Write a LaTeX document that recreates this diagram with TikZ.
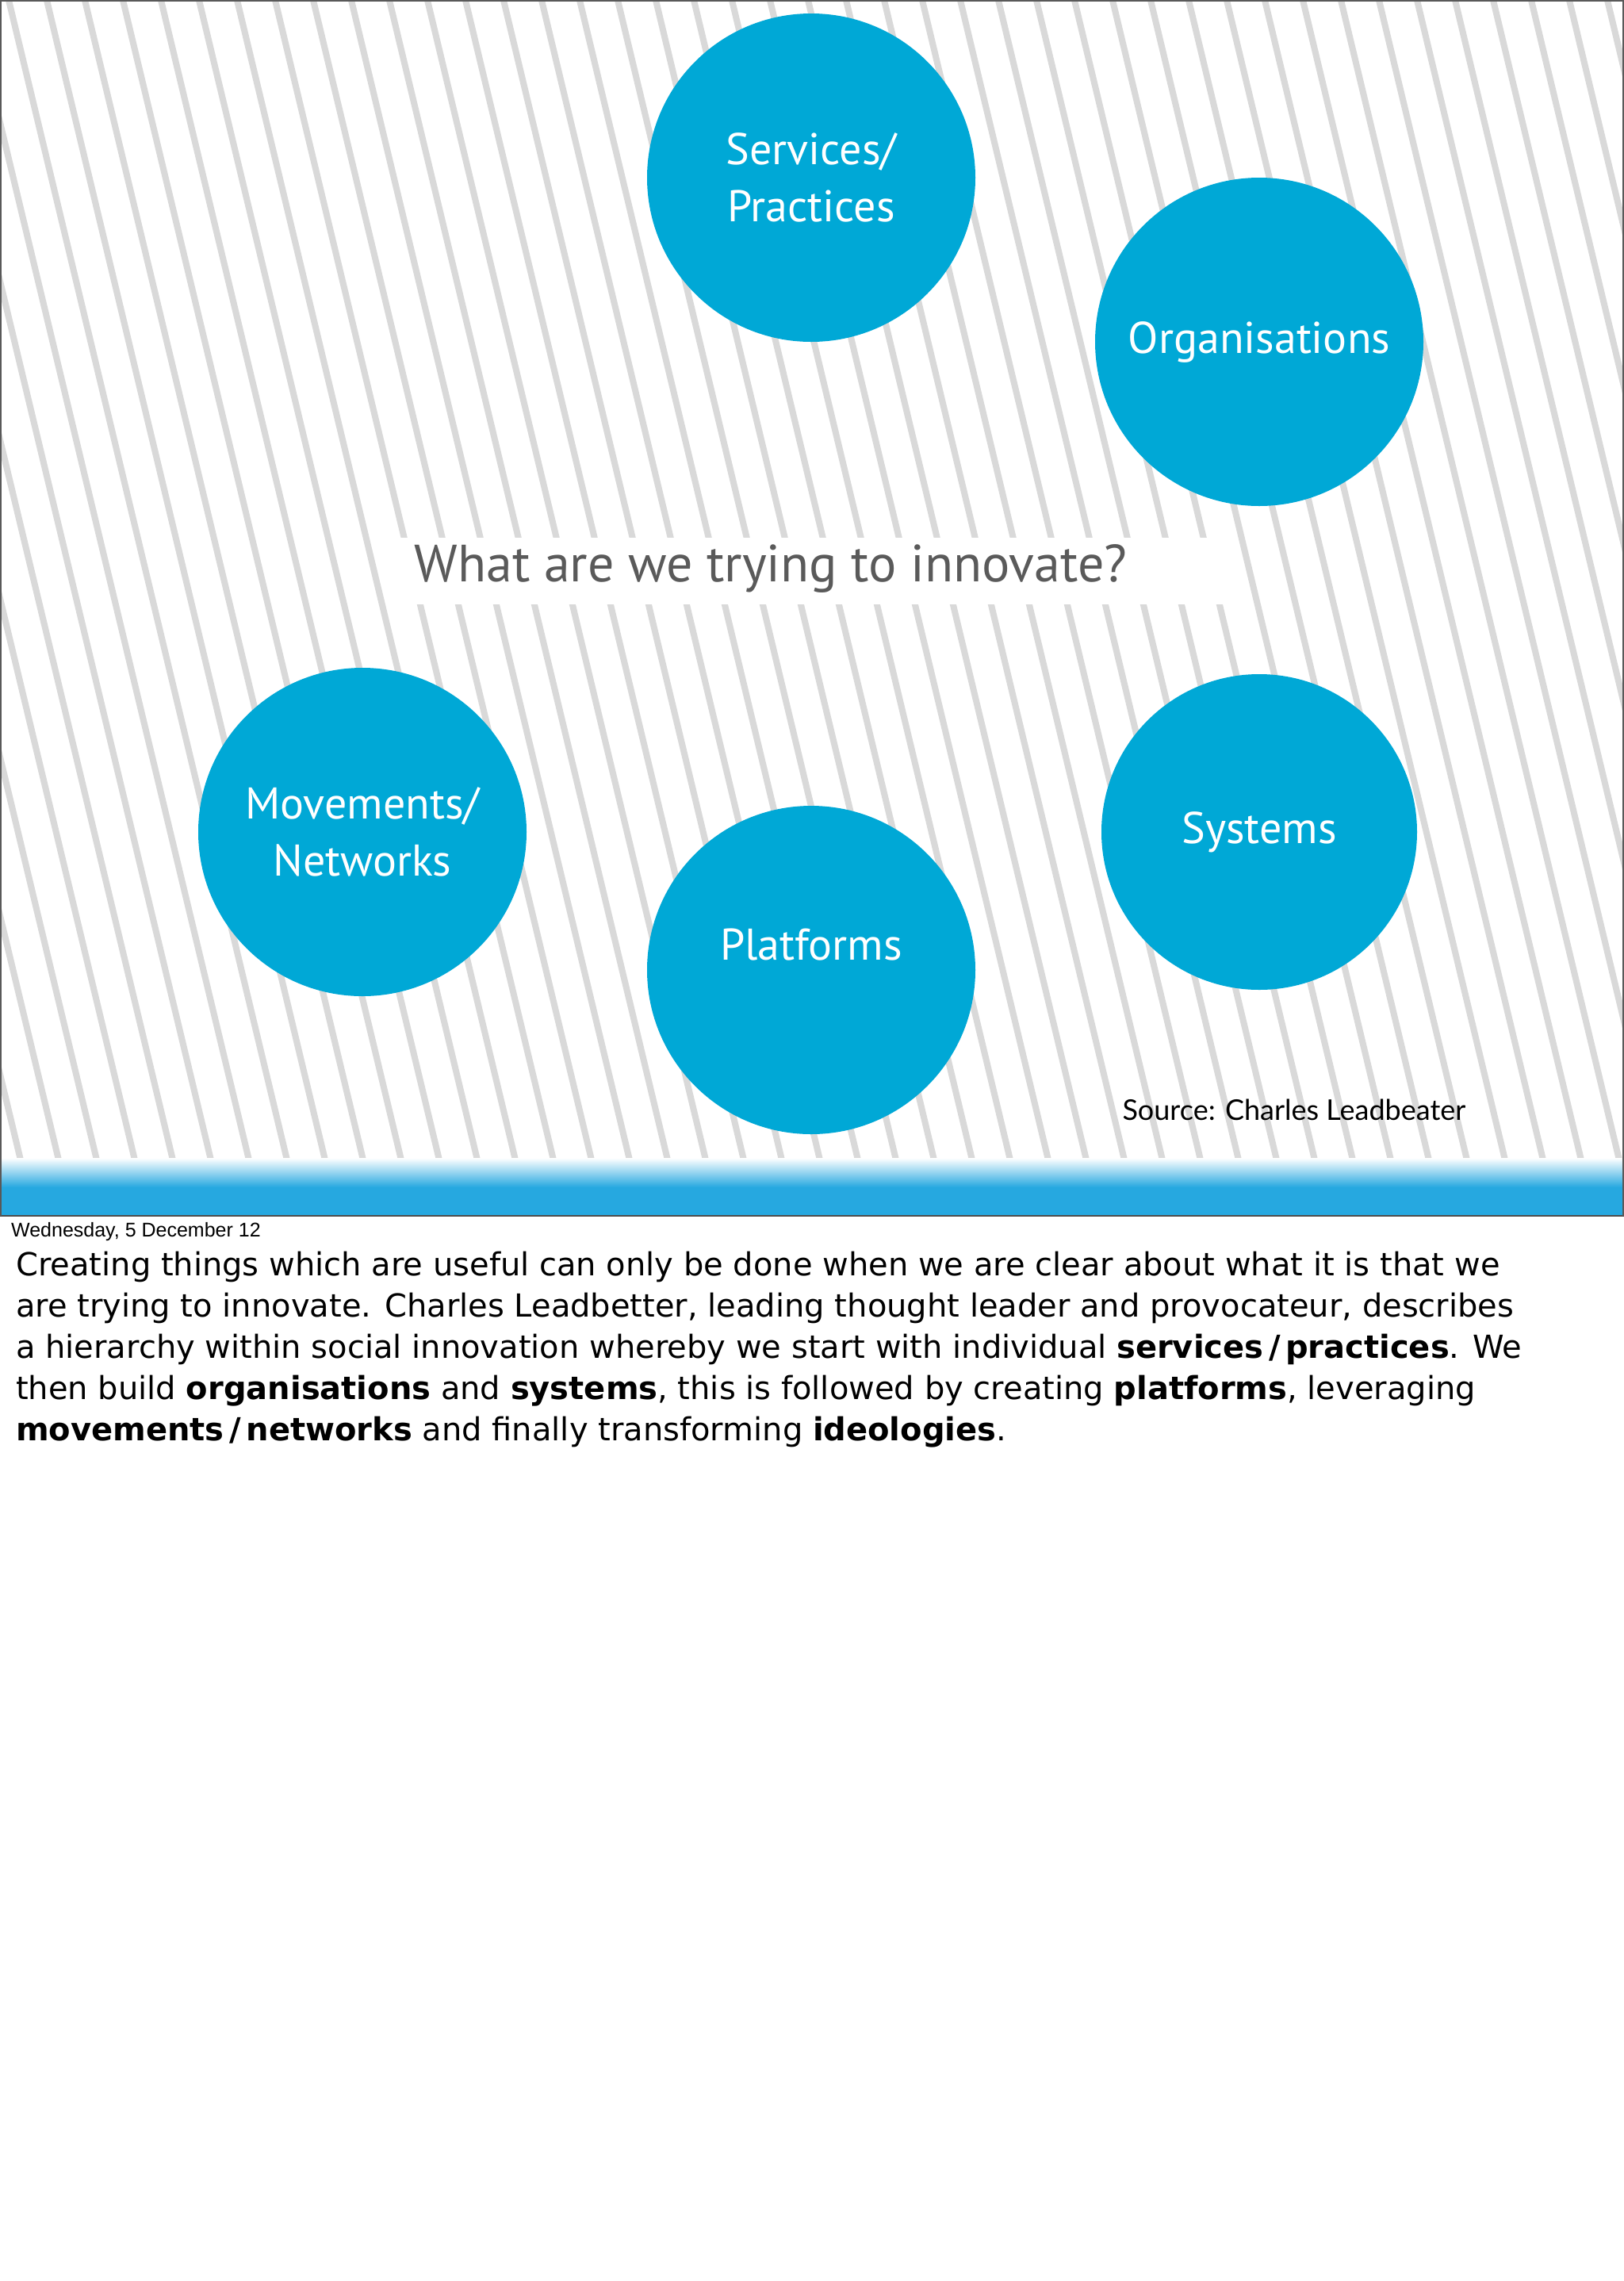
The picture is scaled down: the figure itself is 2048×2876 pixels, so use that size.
\documentclass[tikz,border=0pt]{standalone}
\usepackage{fontspec}
\setmainfont{DejaVu Sans}
\newfontfamily\dinfont{PT Sans}
\newfontfamily\gillfont{Lato}
\newfontfamily\helvfont{Liberation Sans}
\definecolor{circ}{RGB}{0,168,214}
\definecolor{band}{RGB}{38,168,224}
\definecolor{stripe}{RGB}{217,217,217}
\definecolor{titlegray}{RGB}{90,90,90}
\tikzset{
  bub/.style={circle,fill=circ,minimum size=414pt,inner sep=0pt,text=white,align=center,font=\dinfont\fontsize{56}{72}\selectfont},
}
\begin{document}
\begin{tikzpicture}[x=1pt,y=1pt]
\useasboundingbox (0,0) rectangle (2048,-2876);
\fill[white] (0,0) rectangle (2048,-2876);
\begin{scope}
\clip (0,0) rectangle (2048,-1462);
\foreach \i in {-10,...,44} {
  \draw[stripe,line width=8pt] ({\i*48+10},4) -- ({\i*48+10+0.24*1470},-1466);
}
\end{scope}
\shade[top color=white,bottom color=band] (0,-1460) rectangle (2048,-1497);
\fill[band] (0,-1497) rectangle (2048,-1533);
\draw[line width=2.5pt,color=black!70] (0,-1533) -- (2048,-1533);
\draw[line width=2pt,color=black!65] (1,-1533) -- (1,-1) -- (2047,-1) -- (2047,-1533);
\fill[white] (495,-678) rectangle (1546,-762);
\node[font=\dinfont\fontsize{66}{72}\selectfont,text=titlegray] (title) at (972,-717) {What are we trying to innovate?};
\node[bub] (serv) at (1023,-224) {Services/\\Practices};
\node[bub] (org) at (1588,-431) {Organisations};
\node[bub] (mov) at (457,-1049) {Movements/\\Networks};
\node[bub] (plat) at (1023,-1223) {\raisebox{65pt}{Platforms}};
\node[bub,minimum size=398pt] (sys) at (1588,-1049) {Systems};
\node[font=\gillfont\fontsize{36}{40}\selectfont,anchor=west] (src) at (1412,-1399) {Source: Charles Leadbeater};
\node[font=\helvfont\fontsize{25}{30}\selectfont,anchor=west,inner sep=0pt] (date) at (14,-1553) {Wednesday, 5 December 12};
\node[anchor=north west,inner sep=0pt,align=left,font=\fontsize{40}{52}\selectfont] (para) at (20,-1578) {%
Creating things which are useful can only be done when we are clear about what it is that we\\
are trying to innovate. Charles Leadbetter, leading thought leader and provocateur, describes\\
a hierarchy within social innovation whereby we start with individual \textbf{services\,/\,practices}. We\\
then build \textbf{organisations} and \textbf{systems}, this is followed by creating \textbf{platforms}, leveraging\\
\textbf{movements\,/\,networks} and finally transforming \textbf{ideologies}.};
\end{tikzpicture}
\end{document}
